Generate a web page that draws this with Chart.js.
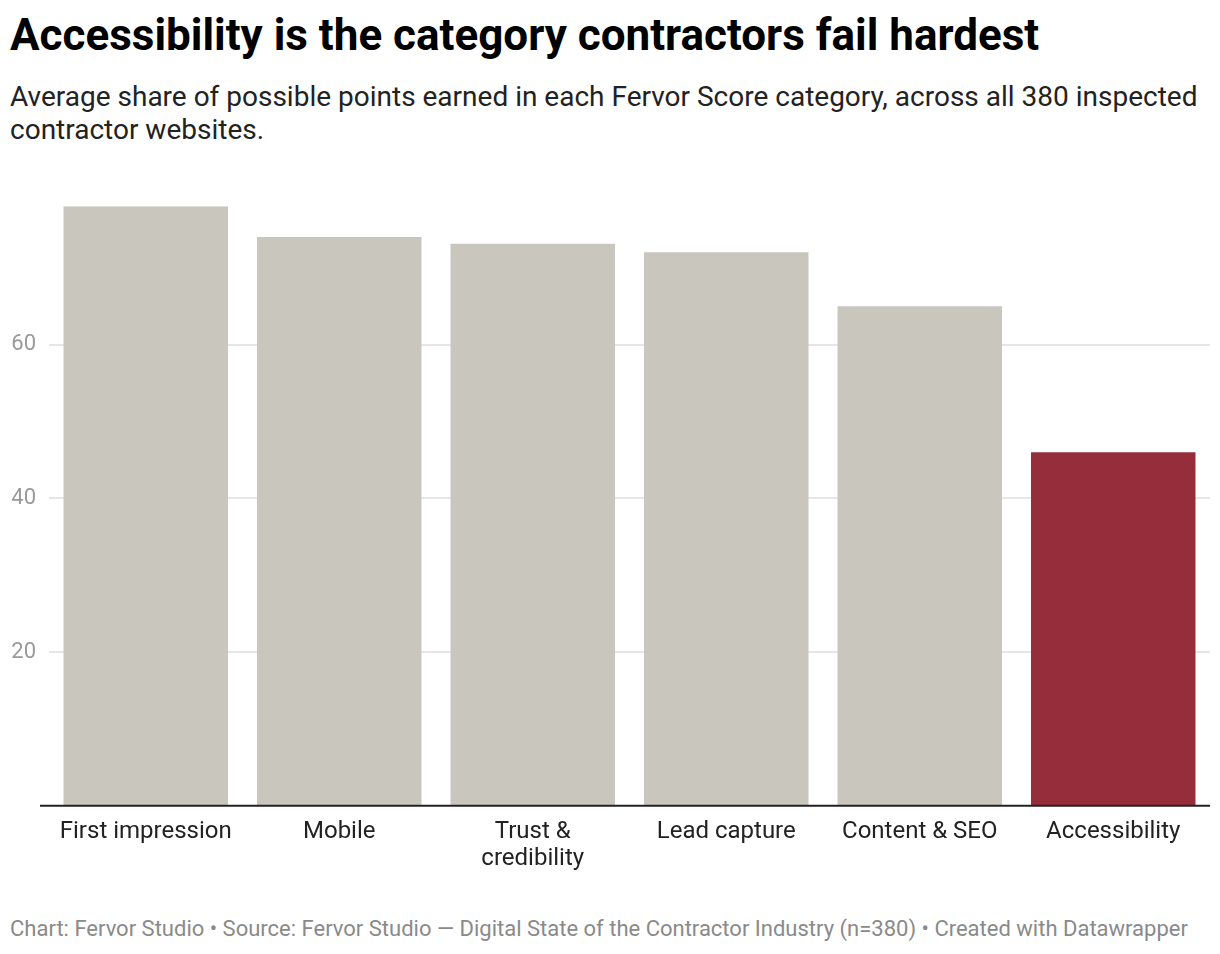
<!DOCTYPE html>
<html>
<head>
<meta charset="utf-8">
<script src="https://cdn.jsdelivr.net/npm/chart.js@4/dist/chart.umd.min.js"></script>
<style>
  body { margin: 0; background: #fff; font-family: Roboto, sans-serif; }
  #wrap { position: relative; width: 1220px; height: 954px; }
  h1 { position: absolute; left: 10px; top: 9px; margin: 0; font-size: 44px; line-height: 52px; font-weight: 700; color: #000; white-space: nowrap; }
  .sub { position: absolute; left: 10px; top: 80px; width: 1205px; margin: 0; font-size: 28px; line-height: 33px; color: #222; }
  .foot { position: absolute; left: 10px; top: 916px; margin: 0; font-size: 22px; line-height: 26px; color: #8a8a8a; white-space: nowrap; }
  #box { position: absolute; left: 0; top: 180px; width: 1220px; height: 697px; }
</style>
</head>
<body>
<div id="wrap">
  <h1>Accessibility is the category contractors fail hardest</h1>
  <p class="sub">Average share of possible points earned in each Fervor Score category, across all 380 inspected contractor websites.</p>
  <div id="box"><canvas id="chart"></canvas></div>
  <p class="foot">Chart: Fervor Studio • Source: Fervor Studio — Digital State of the Contractor Industry (n=380) • Created with Datawrapper</p>
</div>
<script>
var categories = ['First impression', 'Mobile', ['Trust &', 'credibility'], 'Lead capture', 'Content & SEO', 'Accessibility'];
var scores = [78, 74, 73.1, 72, 65, 46];
var yTicks = [20, 40, 60];

var barColors = scores.map(function(v, i) {
    return i === scores.length - 1 ? '#962d3a' : '#c9c6be';
});

// dark zero line, runs a bit left of the plot like the original
var baseline = {
    id: 'baseline',
    afterDatasetsDraw: function(chart) {
        var ctx = chart.ctx;
        var y = chart.scales.y.getPixelForValue(0);
        ctx.save();
        ctx.strokeStyle = '#222';
        ctx.lineWidth = 2;
        ctx.beginPath();
        ctx.moveTo(40, y);
        ctx.lineTo(chart.chartArea.right, y);
        ctx.stroke();
        ctx.restore();
    }
};

new Chart(document.getElementById('chart'), {
    type: 'bar',
    data: {
        labels: categories,
        datasets: [{
            data: scores,
            backgroundColor: barColors,
            borderWidth: 0,
            categoryPercentage: 1,
            barPercentage: 0.85,
        }],
    },
    options: {
        responsive: true,
        maintainAspectRatio: false,
        animation: false,
        layout: { padding: { top: 26, right: 10, left: 0, bottom: 0 } },
        plugins: {
            legend: { display: false },
            tooltip: { enabled: false },
        },
        scales: {
            x: {
                grid: { display: false },
                border: { display: false },
                ticks: {
                    color: '#222',
                    padding: 4,
                    maxRotation: 0,
                    autoSkip: false,
                    font: { family: 'Roboto', size: 24, lineHeight: 1.15 },
                },
            },
            y: {
                min: 0,
                max: 78,
                afterBuildTicks: function(scale) {
                    scale.ticks = yTicks.map(function(v) { return { value: v }; });
                },
                afterFit: function(scale) { scale.width = 49; },
                grid: { color: '#e6e6e6', lineWidth: 2, drawTicks: false },
                border: { display: false },
                ticks: {
                    color: '#9a9a9a',
                    padding: 13,
                    font: { family: 'Roboto', size: 22 },
                },
            },
        },
    },
    plugins: [baseline],
});
</script>
</body>
</html>
